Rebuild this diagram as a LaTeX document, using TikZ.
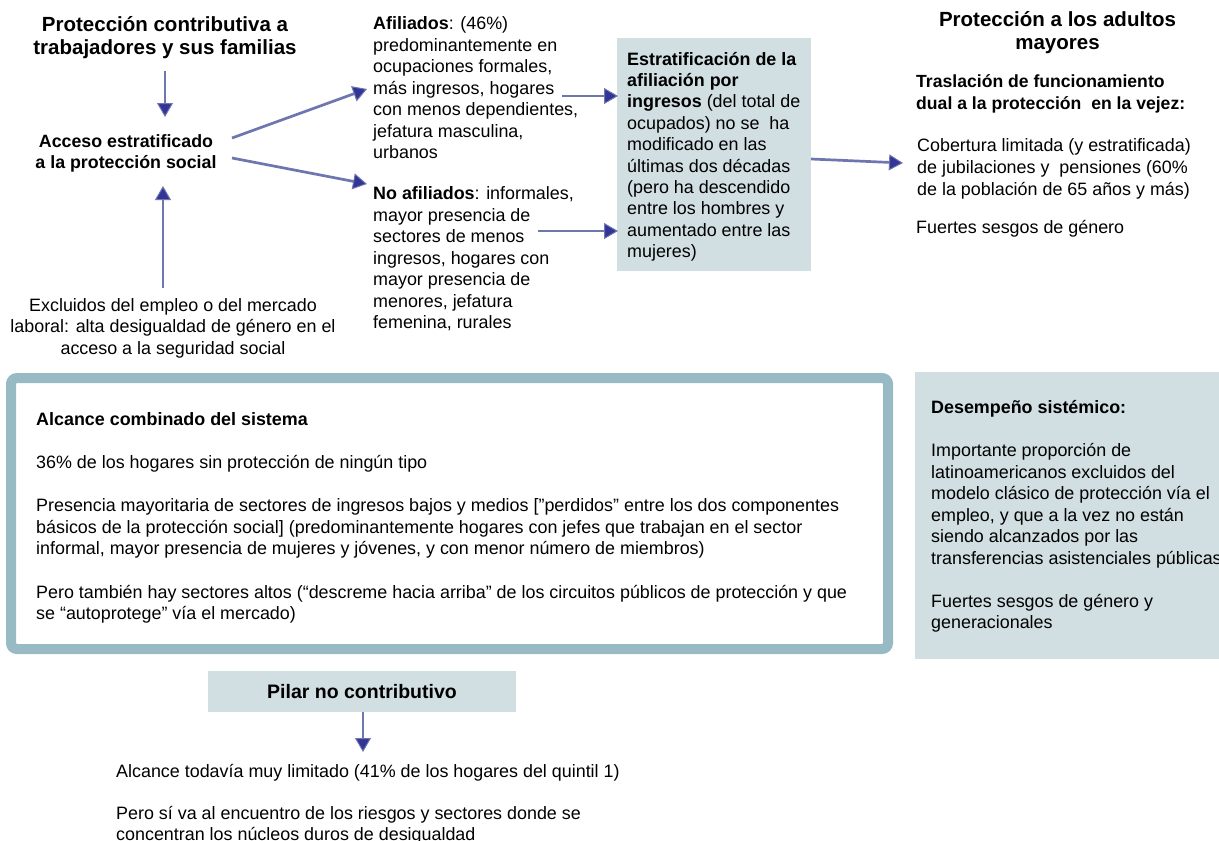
\documentclass[tikz,border=0pt]{standalone}
\usepackage{fontspec}
\setmainfont{Liberation Sans}
\usetikzlibrary{arrows.meta}
\definecolor{boxgrey}{RGB}{209,222,226}
\definecolor{frame}{RGB}{151,186,196}
\definecolor{arrline}{RGB}{110,118,175}
\definecolor{arrtip}{RGB}{50,52,150}
\newcommand{\fsz}[2]{\fontsize{#1}{#2}\selectfont}
\tikzset{
  arr/.style={draw=arrline, line width=2.7pt, -{Triangle[length=14pt,width=16pt,line width=1pt,fill=arrtip]}},
  txt/.style={inner sep=0pt, anchor=north west, align=left, font=\fsz{17.9}{21.5}},
  title/.style={inner sep=0pt, anchor=north, align=center, font=\fsz{20.5}{23}\bfseries},
  greybox/.style={fill=boxgrey, draw=none},
}
\begin{document}
\begin{tikzpicture}[x=1pt,y=-1pt]
\useasboundingbox (0,0) rectangle (1219,841);
\fill[white] (0,0) rectangle (1219,841);
% boxes
\path[greybox] (617,38) rectangle (811,271);
\path[greybox] (915,372) rectangle (1235,659);
\path[greybox] (208,671) rectangle (516,712);
\draw[frame, line width=10pt, rounded corners=6pt] (11,378) rectangle (888,649);

% left column
\node[title] (t1) at (165,14.9) {\strut Protección contributiva a\\trabajadores y sus familias};
\node[title, font=\fsz{17.8}{21}\bfseries] (acc) at (126,132.3) {\strut Acceso estratificado\\a la protección social};
\node[txt, anchor=north, align=center, font=\fsz{17.9}{21.3}] (excl) at (173,296.5)
  {\strut Excluidos del empleo o del mercado\\laboral: alta desigualdad de género en el\\acceso a la seguridad social};

% middle column
\node[txt] (afil) at (373,14.5) {\strut\textbf{Afiliados}: (46\%)\\predominantemente en\\ocupaciones formales,\\más ingresos, hogares\\con menos dependientes,\\jefatura masculina,\\urbanos};
\node[txt] (noafil) at (373,184.5) {\strut\textbf{No afiliados}: informales,\\mayor presencia de\\sectores de menos\\ingresos, hogares con\\mayor presencia de\\menores, jefatura\\femenina, rurales};

\node[txt, font=\fsz{17.9}{21.4}] (estr) at (627,50) {\strut\textbf{Estratificación de la}\\\textbf{afiliación por}\\\textbf{ingresos} (del total de\\ocupados) no se\ \ ha\\modificado en las\\últimas dos décadas\\(pero ha descendido\\entre los hombres y\\aumentado entre las\\mujeres)};

% right column
\node[title] (t2) at (1057.5,10.5) {\strut Protección a los adultos\\mayores};
\node[txt, font=\fsz{17.6}{22}\bfseries] (trasl) at (916,71.9) {\strut Traslación de funcionamiento\\dual a la protección\ \ en la vejez:};
\node[txt, font=\fsz{17.9}{21.7}] (cob) at (917,136.5) {\strut Cobertura limitada (y estratificada)\\de jubilaciones y\ \ pensiones (60\%\\de la población de 65 años y más)};
\node[txt] (fuert) at (916,218) {\strut Fuertes sesgos de género};

% big box text
\node[txt, font=\fsz{17.9}{21.6}] (alc) at (36,409.9) {\strut\textbf{Alcance combinado del sistema}\\[21.6pt]
36\% de los hogares sin protección de ningún tipo\\[21.6pt]
Presencia mayoritaria de sectores de ingresos bajos y medios [”perdidos” entre los dos componentes\\
básicos de la protección social] (predominantemente hogares con jefes que trabajan en el sector\\
informal, mayor presencia de mujeres y jóvenes, y con menor número de miembros)\\[21.6pt]
Pero también hay sectores altos (“descreme hacia arriba” de los circuitos públicos de protección y que\\
se “autoprotege” vía el mercado)};

% desempeño
\node[txt] (des) at (931,398.5) {\strut\textbf{Desempeño sistémico:}\\[21.5pt]
Importante proporción de\\latinoamericanos excluidos del\\modelo clásico de protección vía el\\empleo, y que a la vez no están\\siendo alcanzados por las\\transferencias asistenciales públicas\\[21.5pt]
Fuertes sesgos de género y\\generacionales};

% pilar
\node[inner sep=0pt, font=\fsz{19.5}{23}\bfseries] (pilar) at (362,691.5) {Pilar no contributivo};
\node[txt, font=\fsz{17.9}{21}] (alc2) at (116,762.3) {\strut Alcance todavía muy limitado (41\% de los hogares del quintil 1)\\[21pt]
Pero sí va al encuentro de los riesgos y sectores donde se\\concentran los núcleos duros de desigualdad};

% arrow coordinates
\coordinate (a1s) at (165,71);  \coordinate (a1e) at (165,117);
\coordinate (a2s) at (163,288); \coordinate (a2e) at (163,186);
\coordinate (a3s) at (232,138); \coordinate (a3e) at (367,89);
\coordinate (a4s) at (232,158); \coordinate (a4e) at (367,184);
\coordinate (a5s) at (562,96);  \coordinate (a5e) at (618,96);
\coordinate (a6s) at (538,231); \coordinate (a6e) at (618,231);
\coordinate (a7s) at (811,159); \coordinate (a7e) at (903,163);
\coordinate (a8s) at (363,712); \coordinate (a8e) at (363,752);
\draw[arr] (a1s) -- (a1e);
\draw[arr] (a2s) -- (a2e);
\draw[arr] (a3s) -- (a3e);
\draw[arr] (a4s) -- (a4e);
\draw[arr] (a5s) -- (a5e);
\draw[arr] (a6s) -- (a6e);
\draw[arr] (a7s) -- (a7e);
\draw[arr] (a8s) -- (a8e);
\end{tikzpicture}
\end{document}
